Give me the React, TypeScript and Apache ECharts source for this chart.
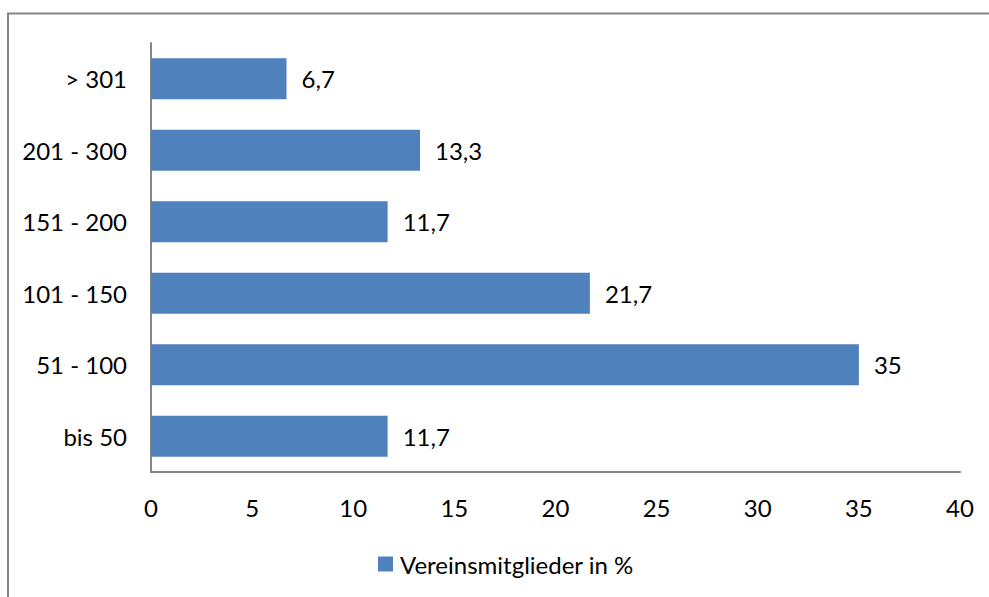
import React, { useEffect, useRef } from "react";
import * as echarts from "echarts";

const categories = ["bis 50", "51 - 100", "101 - 150", "151 - 200", "201 - 300", "> 301"];
const values = [11.7, 35, 21.7, 11.7, 13.3, 6.7];
const seriesName = "Vereinsmitglieder in %";
const FONT = "Lato, 'Open Sans', sans-serif";
const FS = 24;

export default function App() {
  const ref = useRef<HTMLDivElement>(null);
  useEffect(() => {
    if (!ref.current) return;
    const chart = echarts.init(ref.current, null, { renderer: "svg" });
    chart.setOption({
      animation: false,
      backgroundColor: "#ffffff",
      textStyle: { fontFamily: FONT },
      graphic: [
        {
          type: "rect",
          shape: { x: 8, y: 13.5, width: 1100, height: 700 },
          style: { fill: "none", stroke: "#868686", lineWidth: 2 },
          silent: true,
        },
      ],
      grid: { left: 151, right: 29, top: 43, bottom: 125, containLabel: false },
      legend: {
        data: [seriesName],
        left: 378,
        top: 552,
        padding: 0,
        icon: "rect",
        itemWidth: 15,
        itemHeight: 15,
        itemGap: 5,
        textStyle: { fontFamily: FONT, fontSize: FS, color: "#000", padding: [0, 0, 0, 2] },
      },
      xAxis: {
        type: "value",
        min: 0,
        max: 40,
        interval: 5,
        axisLine: { show: true, lineStyle: { color: "#868686", width: 2 } },
        axisTick: { show: false },
        splitLine: { show: false },
        axisLabel: { color: "#000", fontSize: FS, fontFamily: FONT, margin: 23 },
      },
      yAxis: {
        type: "category",
        data: categories,
        axisLine: { show: true, lineStyle: { color: "#868686", width: 2 } },
        axisTick: { show: false },
        axisLabel: { color: "#000", fontSize: FS, fontFamily: FONT, margin: 24 },
      },
      series: [
        {
          name: seriesName,
          type: "bar",
          data: values,
          barCategoryGap: "43%",
          itemStyle: { color: "#4f81bd" },
          label: {
            show: true,
            position: "right",
            distance: 15,
            color: "#000",
            fontSize: FS,
            fontFamily: FONT,
            formatter: (p: any) => String(p.value).replace(".", ","),
          },
        },
      ],
    });
    return () => chart.dispose();
  }, []);
  return (
    <div
      ref={ref}
      style={{ position: "fixed", left: 0, top: 0, width: 989, height: 597 }}
    />
  );
}
